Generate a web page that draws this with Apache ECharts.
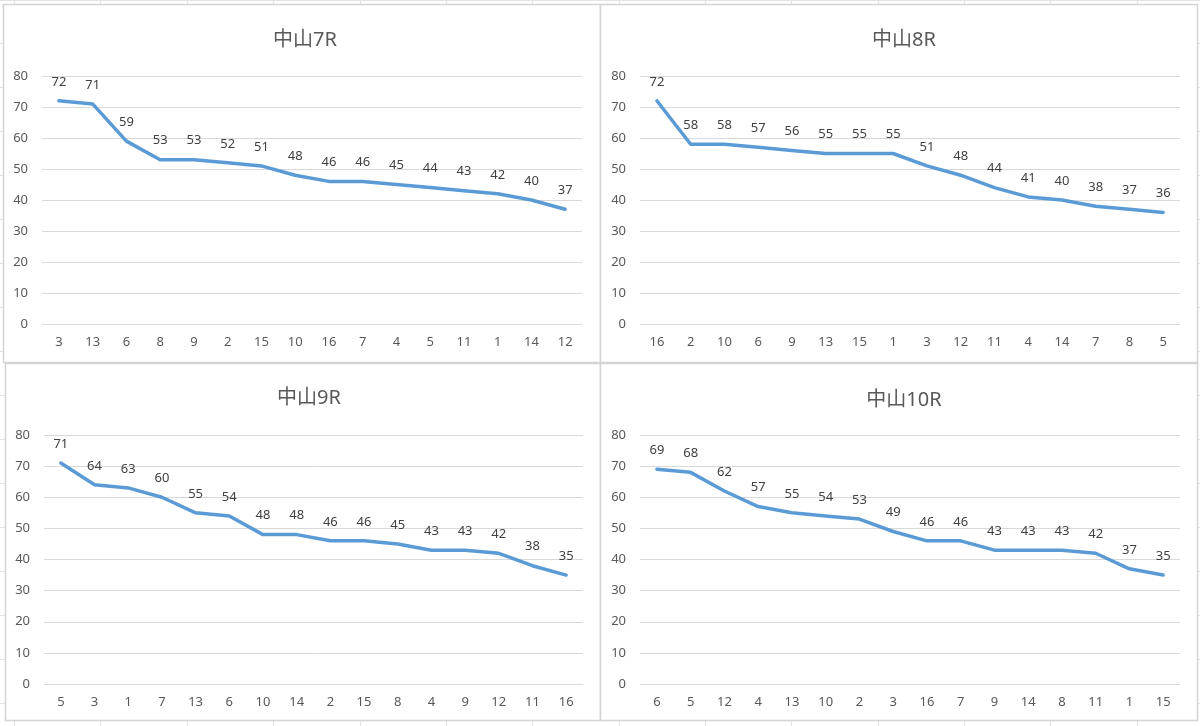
<!DOCTYPE html>
<html>
<head>
<meta charset="utf-8">
<script src="https://cdn.jsdelivr.net/npm/echarts@6/dist/echarts.min.js"></script>
<style>
  html, body { margin: 0; padding: 0; background: #fff; }
  #main { width: 1200px; height: 726px; }
</style>
</head>
<body>
<div id="main"></div>
<script>
  // 各レースのデータ
  var titles = ['中山7R', '中山8R', '中山9R', '中山10R'];
  var cats7 = ['3', '13', '6', '8', '9', '2', '15', '10', '16', '7', '4', '5', '11', '1', '14', '12'];
  var vals7 = [72, 71, 59, 53, 53, 52, 51, 48, 46, 46, 45, 44, 43, 42, 40, 37];
  var cats8 = ['16', '2', '10', '6', '9', '13', '15', '1', '3', '12', '11', '4', '14', '7', '8', '5'];
  var vals8 = [72, 58, 58, 57, 56, 55, 55, 55, 51, 48, 44, 41, 40, 38, 37, 36];
  var cats9 = ['5', '3', '1', '7', '13', '6', '10', '14', '2', '15', '8', '4', '9', '12', '11', '16'];
  var vals9 = [71, 64, 63, 60, 55, 54, 48, 48, 46, 46, 45, 43, 43, 42, 38, 35];
  var cats10 = ['6', '5', '12', '4', '13', '10', '2', '3', '16', '7', '9', '14', '8', '11', '1', '15'];
  var vals10 = [69, 68, 62, 57, 55, 54, 53, 49, 46, 46, 43, 43, 43, 42, 37, 35];

  var allCats = [cats7, cats8, cats9, cats10];
  var allVals = [vals7, vals8, vals9, vals10];

  var myChart = echarts.init(document.getElementById('main'), null, {renderer: 'canvas'});
  var font = '"Noto Sans", "Noto Sans CJK JP", sans-serif';

  // チャート枠の位置
  var boxes = [
    {x: 3, y: 4, w: 597, h: 358},
    {x: 600, y: 4, w: 597, h: 358},
    {x: 5, y: 363, w: 595, h: 357},
    {x: 600, y: 363, w: 597, h: 357}
  ];
  var grids = [
    {left: 42, top: 76, width: 540, height: 248},
    {left: 640, top: 76, width: 540, height: 248},
    {left: 44, top: 435, width: 539, height: 249},
    {left: 640, top: 435, width: 540, height: 249}
  ];
  var titlePos = [
    {x: 300, y: 25},
    {x: 899, y: 25},
    {x: 304, y: 383},
    {x: 899, y: 385}
  ];

  var graphics = [];
  // 背景のセル罫線
  [14, 100, 187, 273, 360, 446, 532, 619, 705, 791, 878, 964, 1050, 1137].forEach(function (x) {
    graphics.push({type: 'line', shape: {x1: x + 0.5, y1: 0, x2: x + 0.5, y2: 726}, style: {stroke: '#e3e3e3', lineWidth: 1}, z: -10});
  });
  [0, 43, 87, 131, 175, 219, 263, 307, 351, 395, 439, 483, 527, 571, 615, 659, 703].forEach(function (y) {
    graphics.push({type: 'line', shape: {x1: 0, y1: y + 0.5, x2: 1200, y2: y + 0.5}, style: {stroke: '#e3e3e3', lineWidth: 1}, z: -10});
  });
  boxes.forEach(function (b) {
    graphics.push({
      type: 'rect',
      shape: {x: b.x + 0.5, y: b.y + 0.5, width: b.w, height: b.h},
      style: {fill: '#ffffff', stroke: '#d4d4d4', lineWidth: 1.5},
      z: -5
    });
  });

  var option = {
    animation: false,
    backgroundColor: '#ffffff',
    graphic: graphics,
    title: titles.map(function (t, i) {
      return {
        text: t,
        left: titlePos[i].x,
        top: titlePos[i].y,
        textAlign: 'center',
        textStyle: {color: '#595959', fontSize: 20, fontWeight: 'normal', fontFamily: font}
      };
    }),
    grid: grids,
    xAxis: allCats.map(function (c, i) {
      return {
        type: 'category',
        gridIndex: i,
        data: c,
        boundaryGap: true,
        axisTick: {show: false},
        axisLine: {show: true, lineStyle: {color: '#d9d9d9', width: 1}},
        axisLabel: {color: '#595959', fontSize: 13, fontFamily: font, margin: 12, interval: 0}
      };
    }),
    yAxis: allCats.map(function (c, i) {
      return {
        type: 'value',
        gridIndex: i,
        min: 0,
        max: 80,
        interval: 10,
        axisLine: {show: false},
        axisTick: {show: false},
        splitLine: {lineStyle: {color: '#d9d9d9', width: 1}},
        axisLabel: {color: '#595959', fontSize: 13, fontFamily: font, margin: 14}
      };
    }),
    series: allVals.map(function (v, i) {
      return {
        type: 'line',
        xAxisIndex: i,
        yAxisIndex: i,
        data: v,
        symbol: 'circle',
        symbolSize: 1,
        showSymbol: true,
        lineStyle: {color: '#5b9bd5', width: 3.5, cap: 'round', join: 'round'},
        itemStyle: {color: '#5b9bd5'},
        label: {
          show: true,
          position: 'top',
          distance: 12,
          color: '#404040',
          fontSize: 13,
          fontFamily: font
        }
      };
    })
  };
  option && myChart.setOption(option);
</script>
</body>
</html>
